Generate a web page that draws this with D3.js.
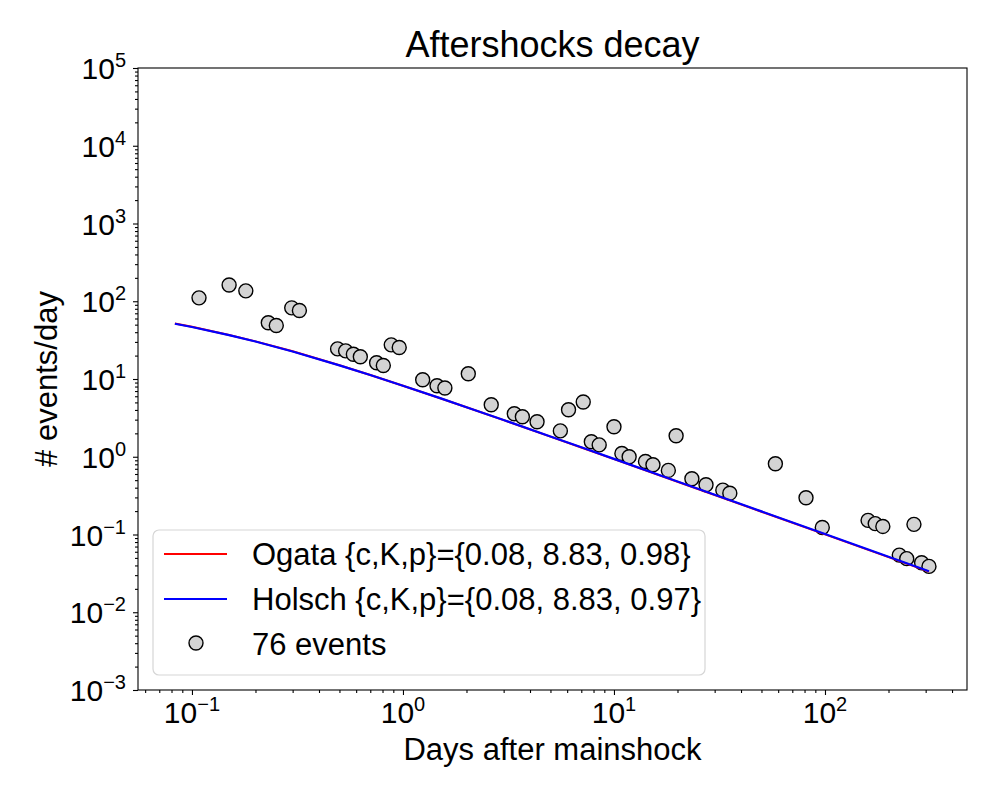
<!DOCTYPE html>
<html>
<head>
<meta charset="utf-8">
<script src="https://cdn.jsdelivr.net/npm/d3@7"></script>
<style>
  body { margin: 0; background: #fff; }
  svg { font-family: "Liberation Sans", Arial, Helvetica, sans-serif; }
</style>
</head>
<body>
<svg id="chart" width="1000" height="800"></svg>
<script>
// observed events (days after mainshock, events per day)
const eventDays = [0.108, 0.150, 0.180, 0.230, 0.251, 0.297, 0.323, 0.490, 0.535, 0.582,
  0.628, 0.750, 0.807, 0.880, 0.960, 1.24, 1.45, 1.58, 2.04, 2.62,
  3.37, 3.68, 4.32, 5.57, 6.09, 7.15, 7.81, 8.51, 10.0, 10.9,
  11.8, 14.1, 15.3, 18.1, 19.7, 23.4, 27.3, 32.8, 35.4, 58.2,
  81.3, 97.1, 160, 173, 188, 225, 244, 264, 287, 311];
const eventRates = [110.6, 162, 136, 52.8, 48.7, 82.3, 75.9, 24.4, 23.0, 20.8,
  19.3, 16.2, 14.9, 27.5, 25.4, 9.8, 8.2, 7.66, 11.7, 4.66,
  3.57, 3.27, 2.82, 2.15, 4.03, 5.06, 1.56, 1.42, 2.43, 1.10,
  1.0, 0.87, 0.79, 0.667, 1.86, 0.521, 0.437, 0.372, 0.340, 0.813,
  0.297, 0.123, 0.152, 0.138, 0.127, 0.0543, 0.0489, 0.135, 0.0434, 0.0389];

// fitted curves (the two overlap almost exactly)
const fitDays = [0.083, 0.1, 0.15, 0.2, 0.3, 0.5, 0.7, 1, 1.5, 2, 3, 5, 7, 10, 20, 50, 100, 200, 311];
const ogataRates = [51.6, 46.9, 36.9, 30.5, 22.7, 15.0, 11.25, 8.19, 5.66, 4.33, 2.96, 1.815, 1.315, 0.933, 0.477, 0.1965, 0.1003, 0.0512, 0.0333];
const holschRates = [51.3, 46.6, 36.7, 30.4, 22.6, 14.98, 11.24, 8.19, 5.67, 4.34, 2.97, 1.825, 1.323, 0.939, 0.481, 0.1983, 0.1013, 0.0518, 0.0337];

// axis ticks
const xMajor = [0.1, 1, 10, 100];
const xExp = ["\u22121", "0", "1", "2"];
const yMajor = [1e-3, 1e-2, 1e-1, 1, 10, 100, 1e3, 1e4, 1e5];
const yExp = ["\u22123", "\u22122", "\u22121", "0", "1", "2", "3", "4", "5"];

const legendLabels = [
  "Ogata {c,K,p}={0.08, 8.83, 0.98}",
  "Holsch {c,K,p}={0.08, 8.83, 0.97}",
  "76 events"
];

const plotL = 138, plotR = 967, plotT = 68, plotB = 690;
const svg = d3.select("#chart");

const x = d3.scaleLog().domain([0.0555, 471]).range([plotL, plotR]);
const y = d3.scaleLog().domain([1e-3, 1e5]).range([plotB, plotT]);

// minor ticks
function minors(lo, hi) {
  let out = [];
  for (let e = lo; e < hi; e++) {
    for (let m = 2; m <= 9; m++) out.push(m * Math.pow(10, e));
  }
  return out;
}
const xMinor = minors(-2, 3).filter(v => v >= x.domain()[0] && v <= x.domain()[1]);
const yMinor = minors(-3, 5);

// scatter
svg.append("g").selectAll("circle")
  .data(eventDays)
  .join("circle")
  .attr("cx", d => x(d))
  .attr("cy", (d, i) => y(eventRates[i]))
  .attr("r", 7)
  .attr("fill", "#d3d3d3")
  .attr("stroke", "#000")
  .attr("stroke-width", 1.4);

// fit lines
let line = d3.line().x(d => x(d[0])).y(d => y(d[1]));
svg.append("path")
  .attr("d", line(fitDays.map((d, i) => [d, ogataRates[i]])))
  .attr("fill", "none").attr("stroke", "#ff0000").attr("stroke-width", 2);
svg.append("path")
  .attr("d", line(fitDays.map((d, i) => [d, holschRates[i]])))
  .attr("fill", "none").attr("stroke", "#0000ff").attr("stroke-width", 2.2);

// frame
svg.append("rect")
  .attr("x", plotL).attr("y", plotT)
  .attr("width", plotR - plotL).attr("height", plotB - plotT)
  .attr("fill", "none").attr("stroke", "#000").attr("stroke-width", 1.1);

// x axis
let gx = svg.append("g").attr("transform", `translate(0,${plotB})`);
gx.call(d3.axisBottom(x).tickValues(xMajor).tickSize(5).tickFormat(""));
gx.append("g").call(d3.axisBottom(x).tickValues(xMinor).tickSize(3).tickFormat(""));
gx.selectAll(".domain").remove();
gx.selectAll("line").attr("stroke-width", 1.1);

xMajor.forEach((v, i) => {
  let t = svg.append("text")
    .attr("x", x(v)).attr("y", 723)
    .attr("text-anchor", "middle")
    .attr("font-size", 30).attr("fill", "#000");
  t.append("tspan").text("10");
  t.append("tspan").attr("dy", -12).attr("font-size", 20).text(xExp[i]);
});

// y axis
let gy = svg.append("g").attr("transform", `translate(${plotL},0)`);
gy.call(d3.axisLeft(y).tickValues(yMajor).tickSize(5).tickFormat(""));
gy.append("g").call(d3.axisLeft(y).tickValues(yMinor).tickSize(3).tickFormat(""));
gy.selectAll(".domain").remove();
gy.selectAll("line").attr("stroke-width", 1.1);

yMajor.forEach((v, i) => {
  let t = svg.append("text")
    .attr("x", 126).attr("y", y(v) + 11)
    .attr("text-anchor", "end")
    .attr("font-size", 30).attr("fill", "#000");
  t.append("tspan").text("10");
  t.append("tspan").attr("dy", -12).attr("font-size", 20).text(yExp[i]);
});

// titles
svg.append("text")
  .attr("x", (plotL + plotR) / 2).attr("y", 57)
  .attr("text-anchor", "middle").attr("font-size", 36)
  .text("Aftershocks decay");
svg.append("text")
  .attr("x", (plotL + plotR) / 2).attr("y", 760)
  .attr("text-anchor", "middle").attr("font-size", 31)
  .text("Days after mainshock");
svg.append("text")
  .attr("transform", "translate(57,379) rotate(-90)")
  .attr("text-anchor", "middle").attr("font-size", 31)
  .text("# events/day");

// legend
let lg = svg.append("g");
lg.append("rect")
  .attr("x", 153).attr("y", 530).attr("width", 552).attr("height", 145)
  .attr("rx", 6)
  .attr("fill", "#fff").attr("fill-opacity", 0.8)
  .attr("stroke", "#d6d6d6").attr("stroke-width", 1.2);

const legendColors = ["#ff0000", "#0000ff"];
legendLabels.forEach((lab, i) => {
  let cy = 554 + i * 45;
  if (i < 2) {
    lg.append("line")
      .attr("x1", 164).attr("x2", 227).attr("y1", cy).attr("y2", cy)
      .attr("stroke", legendColors[i]).attr("stroke-width", 2);
  } else {
    lg.append("circle")
      .attr("cx", 196).attr("cy", cy - 1).attr("r", 7)
      .attr("fill", "#d3d3d3").attr("stroke", "#000").attr("stroke-width", 1.4);
  }
  lg.append("text")
    .attr("x", 252).attr("y", cy + 11)
    .attr("font-size", 31).text(lab);
});
</script>
</body>
</html>
